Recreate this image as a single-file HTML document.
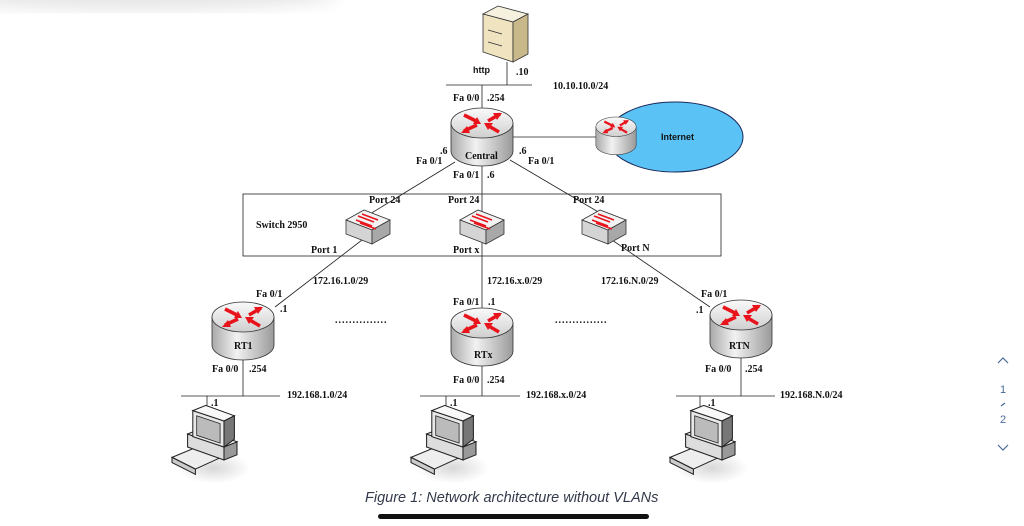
<!DOCTYPE html>
<html><head><meta charset="utf-8"><style>
html,body{margin:0;padding:0;background:#fff;width:1024px;height:526px;overflow:hidden}
svg{display:block}
.t{font-family:"Liberation Serif",serif;font-weight:bold;font-size:10px;fill:#111}
.s{font-family:"Liberation Sans",sans-serif;font-weight:bold;font-size:9px;fill:#111}
</style></head><body>
<svg width="1024" height="526" viewBox="0 0 1024 526" xmlns="http://www.w3.org/2000/svg">
<defs>
<filter id="bl"><feGaussianBlur stdDeviation="8"/></filter>
<radialGradient id="sh" cx="0.5" cy="0.5" r="0.5"><stop offset="0" stop-color="#d8d8d8"/><stop offset="1" stop-color="#fff"/></radialGradient>
<linearGradient id="rb" x1="0" x2="1"><stop offset="0" stop-color="#a9a9a9"/><stop offset="0.4" stop-color="#f2f2f2"/><stop offset="1" stop-color="#9a9a9a"/></linearGradient>
<linearGradient id="rt" x1="0" y1="0" x2="0" y2="1"><stop offset="0" stop-color="#fafafa"/><stop offset="1" stop-color="#cfcfcf"/></linearGradient>
<g id="router">
<path d="M-31,15 L-31,43 A31,15 0 0 0 31,43 L31,15 Z" fill="url(#rb)" stroke="#333" stroke-width="0.8"/>
<ellipse cx="0" cy="15" rx="31" ry="15" fill="url(#rt)" stroke="#333" stroke-width="0.8"/>
<g stroke="#e8141c" stroke-width="3.5" fill="#e8141c">
<line x1="-18" y1="7" x2="-4" y2="14"/><polygon points="-1,16 -9,16 -5,9" stroke="none"/>
<line x1="18" y1="6" x2="6" y2="13"/><polygon points="20,5 11,5 15,12" stroke="none"/>
<line x1="-5" y1="17" x2="-18" y2="23"/><polygon points="-21,25 -12,25 -15,18" stroke="none"/>
<line x1="17" y1="24" x2="5" y2="17"/><polygon points="2,15 11,15 6,22" stroke="none"/>
</g>
</g>
<g id="switch">
<polygon points="-22,-6 -4,-16 22,-6 4,4" fill="#f3f3f3" stroke="#333" stroke-width="0.8"/>
<polygon points="-22,-6 4,4 4,18 -22,8" fill="#d4d4d4" stroke="#333" stroke-width="0.8"/>
<polygon points="4,4 22,-6 22,8 4,18" fill="#a8a8a8" stroke="#333" stroke-width="0.8"/>
<g stroke="#e8141c" stroke-width="1.6"><line x1="-10" y1="-10" x2="6" y2="-4"/><line x1="-12" y1="-6" x2="4" y2="0"/><line x1="-6" y1="-12" x2="10" y2="-6"/><line x1="-8" y1="-3" x2="8" y2="3"/></g>
</g>
<g id="pc">
<ellipse cx="22" cy="46" rx="28" ry="12" fill="url(#sh)"/>
<polygon points="-10,38 14,28 32,36 8,47" fill="#eee" stroke="#222" stroke-width="0.8"/>
<polygon points="-10,38 8,47 8,51 -10,42" fill="#ccc" stroke="#222" stroke-width="0.8"/>
<polygon points="2,20 30,30 30,40 2,30" fill="#ddd" stroke="#222" stroke-width="0.8"/>
<polygon points="30,30 40,26 40,36 30,40" fill="#999" stroke="#222" stroke-width="0.8"/>
<polygon points="2,20 12,16 40,26 30,30" fill="#f3f3f3" stroke="#222" stroke-width="0.8"/>
<polygon points="6,2 30,10 30,30 6,22" fill="#e8e8e8" stroke="#222" stroke-width="0.8"/>
<polygon points="9,6 27,12 27,27 9,21" fill="#bbb" stroke="#222" stroke-width="0.6"/>
<polygon points="6,2 16,-2 38,6 30,10" fill="#f8f8f8" stroke="#222" stroke-width="0.8"/>
<polygon points="30,10 38,6 38,24 30,30" fill="#777" stroke="#222" stroke-width="0.8"/>
</g>
</defs>
<rect width="1024" height="526" fill="#fff"/>
<ellipse cx="140" cy="-6" rx="200" ry="16" fill="#e6e6e6" filter="url(#bl)"/>

<!-- server -->
<polygon points="483,14 498,6 528,14 513,22" fill="#f6f0df" stroke="#333" stroke-width="0.8"/>
<polygon points="483,14 513,22 513,62 483,52" fill="#efe3c0" stroke="#333" stroke-width="0.8"/>
<polygon points="513,22 528,14 528,54 513,62" fill="#c9b98a" stroke="#333" stroke-width="0.8"/>
<line x1="488" y1="30" x2="502" y2="34" stroke="#333" stroke-width="0.8"/>
<line x1="488" y1="42" x2="502" y2="46" stroke="#333" stroke-width="0.8"/>

<g stroke="#222" stroke-width="0.8" fill="none">
<line x1="446" y1="85" x2="532" y2="85"/>
<line x1="507" y1="62" x2="507" y2="85"/>
<line x1="482" y1="85" x2="482" y2="108"/>
<line x1="513" y1="137" x2="600" y2="137"/>
<rect x="243" y="194" width="478" height="62"/>
<line x1="455" y1="162" x2="370" y2="214"/>
<line x1="510" y1="160" x2="600" y2="213"/>
<line x1="482" y1="166" x2="482" y2="320"/>
<line x1="362" y1="240" x2="275" y2="307"/>
<line x1="612" y1="240" x2="710" y2="307"/>
<line x1="243" y1="360" x2="243" y2="396"/>
<line x1="181" y1="396" x2="280" y2="396"/>
<line x1="207" y1="396" x2="207" y2="410"/>
<line x1="482" y1="366" x2="482" y2="396"/>
<line x1="420" y1="396" x2="520" y2="396"/>
<line x1="446" y1="396" x2="446" y2="410"/>
<line x1="741" y1="358" x2="741" y2="396"/>
<line x1="676" y1="396" x2="775" y2="396"/>
<line x1="700" y1="396" x2="700" y2="410"/>
</g>

<ellipse cx="675" cy="137" rx="68" ry="35" fill="#5bc2f5" stroke="#1a2a5a" stroke-width="1"/>
<g transform="translate(616,117) scale(0.65)"><use href="#router"/></g>
<text x="661" y="140" class="s">Internet</text>

<use href="#router" x="482" y="108"/>
<use href="#router" x="243" y="302"/>
<use href="#router" x="482" y="308"/>
<use href="#router" x="741" y="300"/>

<use href="#switch" x="368" y="226"/>
<use href="#switch" x="482" y="226"/>
<use href="#switch" x="604" y="226"/>

<g transform="translate(185,408) scale(1.3)"><use href="#pc"/></g>
<g transform="translate(424,408) scale(1.3)"><use href="#pc"/></g>
<g transform="translate(683,408) scale(1.3)"><use href="#pc"/></g>

<text x="473" y="73" class="s">http</text>
<text x="516" y="75" class="t">.10</text>
<text x="553" y="89" class="t">10.10.10.0/24</text>
<text x="453" y="101" class="t">Fa 0/0</text><text x="487" y="101" class="t">.254</text>
<text x="465" y="159" class="t">Central</text>
<text x="440" y="154" class="t">.6</text><text x="416" y="164" class="t">Fa 0/1</text>
<text x="519" y="154" class="t">.6</text><text x="528" y="164" class="t">Fa 0/1</text>
<text x="453" y="178" class="t">Fa 0/1</text><text x="487" y="178" class="t">.6</text>
<text x="369" y="203" class="t">Port 24</text>
<text x="448" y="203" class="t">Port 24</text>
<text x="573" y="203" class="t">Port 24</text>
<text x="256" y="228" class="t">Switch 2950</text>
<text x="311" y="253" class="t">Port 1</text>
<text x="453" y="253" class="t">Port x</text>
<text x="621" y="251" class="t">Port N</text>
<text x="313" y="284" class="t">172.16.1.0/29</text>
<text x="487" y="284" class="t">172.16.x.0/29</text>
<text x="601" y="284" class="t">172.16.N.0/29</text>
<text x="256" y="297" class="t">Fa 0/1</text><text x="280" y="312" class="t">.1</text>
<text x="453" y="305" class="t">Fa 0/1</text><text x="488" y="305" class="t">.1</text>
<text x="701" y="297" class="t">Fa 0/1</text><text x="696" y="313" class="t">.1</text>
<text x="335" y="323" class="t" fill="#888" font-weight="normal" letter-spacing="1">...............</text>
<text x="555" y="323" class="t" fill="#888" font-weight="normal" letter-spacing="1">...............</text>
<text x="234" y="349" class="t">RT1</text>
<text x="474" y="358" class="t">RTx</text>
<text x="729" y="349" class="t">RTN</text>
<text x="212" y="372" class="t">Fa 0/0</text><text x="249" y="372" class="t">.254</text>
<text x="453" y="383" class="t">Fa 0/0</text><text x="487" y="383" class="t">.254</text>
<text x="705" y="372" class="t">Fa 0/0</text><text x="745" y="372" class="t">.254</text>
<text x="287" y="398" class="t">192.168.1.0/24</text>
<text x="526" y="398" class="t">192.168.x.0/24</text>
<text x="780" y="398" class="t">192.168.N.0/24</text>
<text x="211" y="406" class="t">.1</text>
<text x="450" y="406" class="t">.1</text>
<text x="708" y="406" class="t">.1</text>

<text x="365" y="502" font-family="Liberation Sans,sans-serif" font-style="italic" font-size="14.5" fill="#333a4a">Figure 1: Network architecture without VLANs</text>
<rect x="378" y="514" width="271" height="5" rx="2.5" fill="#111"/>

<g stroke="#4a6a9a" stroke-width="1.2" fill="none"><polyline points="998,363 1003,358 1008,363"/><polyline points="998,445 1003,450 1008,445"/><line x1="1001" y1="406" x2="1005" y2="403"/></g>
<text x="1003" y="393" text-anchor="middle" font-family="Liberation Sans,sans-serif" font-size="11" fill="#4a6a9a">1</text>
<text x="1003" y="423" text-anchor="middle" font-family="Liberation Sans,sans-serif" font-size="11" fill="#4a6a9a">2</text>
</svg>
</body></html>
